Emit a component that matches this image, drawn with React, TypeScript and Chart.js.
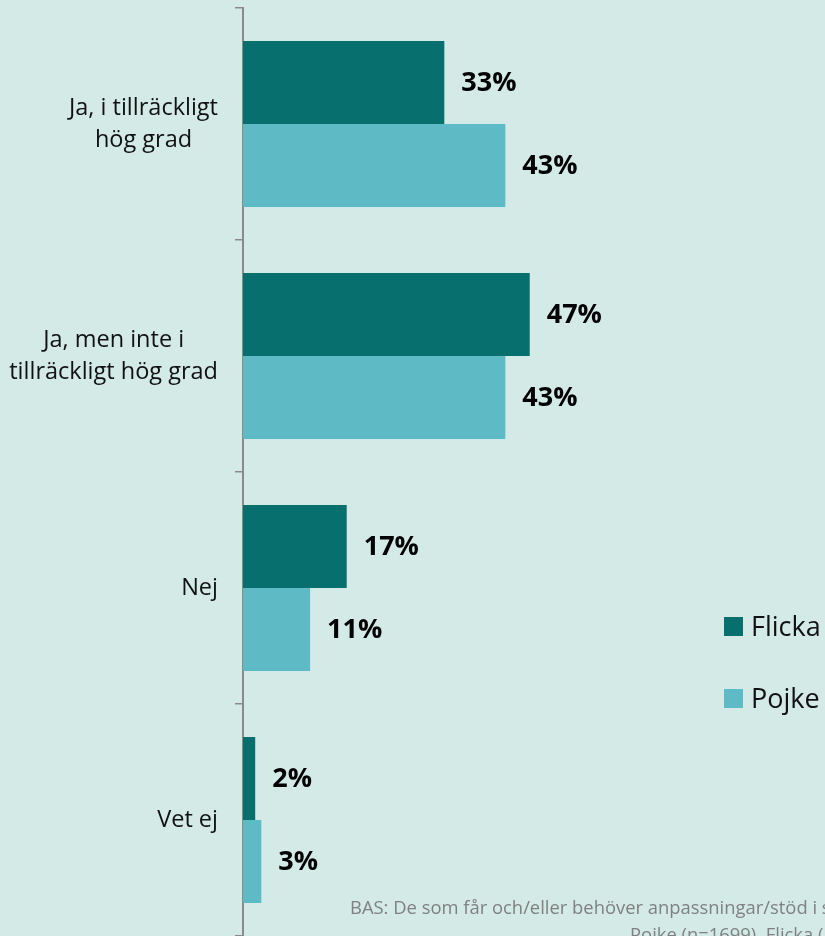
import React, { useEffect, useRef } from "react";
import { Chart, registerables } from "chart.js";

Chart.register(...registerables);

const categoryLines: string[][] = [
  ["Ja, i tillräckligt", "hög grad"],
  ["Ja, men inte i", "tillräckligt hög grad"],
  ["Nej"],
  ["Vet ej"],
];
const categories = ["Ja, i tillräckligt hög grad", "Ja, men inte i tillräckligt hög grad", "Nej", "Vet ej"];
const flicka = [33, 47, 17, 2];
const pojke = [43, 43, 11, 3];
const seriesNames = ["Flicka", "Pojke"];
const seriesColors = ["#07706e", "#5ebbc6"];
const footnoteLines = [
  "BAS: De som får och/eller behöver anpassningar/stöd i skolan",
  "Pojke (n=1699), Flicka (n=",
];

const BG = "#d3eae7";
const FONT = "'Open Sans', 'Noto Sans', sans-serif";

const overlayPlugin = {
  id: "overlay",
  beforeDraw(chart: any) {
    const ctx = chart.ctx;
    ctx.save();
    ctx.fillStyle = BG;
    ctx.fillRect(0, 0, chart.width, chart.height);
    ctx.restore();
  },
  afterDraw(chart: any) {
    const ctx = chart.ctx;
    const yScale = chart.scales.y;
    ctx.save();
    // category labels
    ctx.font = `23.5px ${FONT}`;
    ctx.fillStyle = "#111";
    ctx.textBaseline = "middle";
    ctx.textAlign = "center";
    const rightEdge = yScale.right - 25;
    categoryLines.forEach((lines, i) => {
      const cy = yScale.getPixelForValue(i);
      const maxW = Math.max(...lines.map((l) => ctx.measureText(l).width));
      const cx = rightEdge - maxW / 2;
      const lh = 32;
      const y0 = cy - ((lines.length - 1) * lh) / 2;
      lines.forEach((l, j) => ctx.fillText(l, cx, y0 + j * lh));
    });
    // value labels
    ctx.font = `bold 27px ${FONT}`;
    ctx.fillStyle = "#000";
    ctx.textAlign = "left";
    chart.data.datasets.forEach((ds: any, di: number) => {
      const meta = chart.getDatasetMeta(di);
      meta.data.forEach((el: any, i: number) => {
        ctx.fillText(`${ds.data[i]}%`, el.x + 17, el.y + 1);
      });
    });
    // legend
    ctx.textBaseline = "alphabetic";
    ctx.font = `27px ${FONT}`;
    seriesNames.forEach((name, i) => {
      const top = 617 + i * 72;
      ctx.fillStyle = seriesColors[i];
      ctx.fillRect(724, top, 19, 19);
      ctx.fillStyle = "#111";
      ctx.fillText(name, 751, top + 19);
    });
    // footnote
    ctx.font = `18.4px ${FONT}`;
    ctx.fillStyle = "#808080";
    ctx.fillText(footnoteLines[0], 350, 914);
    ctx.fillText(footnoteLines[1], 630, 941);
    ctx.restore();
  },
};

export default function App() {
  const ref = useRef<HTMLCanvasElement | null>(null);
  useEffect(() => {
    if (!ref.current) return;
    const chart = new Chart(ref.current, {
      type: "bar",
      data: {
        labels: categories,
        datasets: [
          { label: seriesNames[0], data: flicka, backgroundColor: seriesColors[0], borderWidth: 0 },
          { label: seriesNames[1], data: pojke, backgroundColor: seriesColors[1], borderWidth: 0 },
        ],
      },
      options: {
        indexAxis: "y",
        animation: false,
        responsive: false,
        maintainAspectRatio: false,
        devicePixelRatio: 1,
        categoryPercentage: 0.716,
        barPercentage: 1,
        layout: { padding: { top: 8, right: 0, bottom: 0, left: 0 } },
        plugins: { legend: { display: false }, tooltip: { enabled: false } },
        scales: {
          x: { display: false, min: 0, max: 95.4 },
          y: {
            display: true,
            afterFit: (scale: any) => {
              scale.width = 243;
            },
            ticks: { display: false },
            grid: {
              display: true,
              drawOnChartArea: false,
              drawTicks: true,
              tickLength: 8,
              offset: true,
              color: "#8a8a8a",
              lineWidth: 1.5,
            },
            border: { display: true, color: "#8a8a8a", width: 2 },
          },
        },
      } as any,
      plugins: [overlayPlugin],
    });
    return () => chart.destroy();
  }, []);
  return (
    <div style={{ position: "absolute", top: 0, left: 0, width: 825, height: 936, background: BG, overflow: "hidden" }}>
      <canvas ref={ref} width={825} height={936} style={{ display: "block" }} />
    </div>
  );
}
